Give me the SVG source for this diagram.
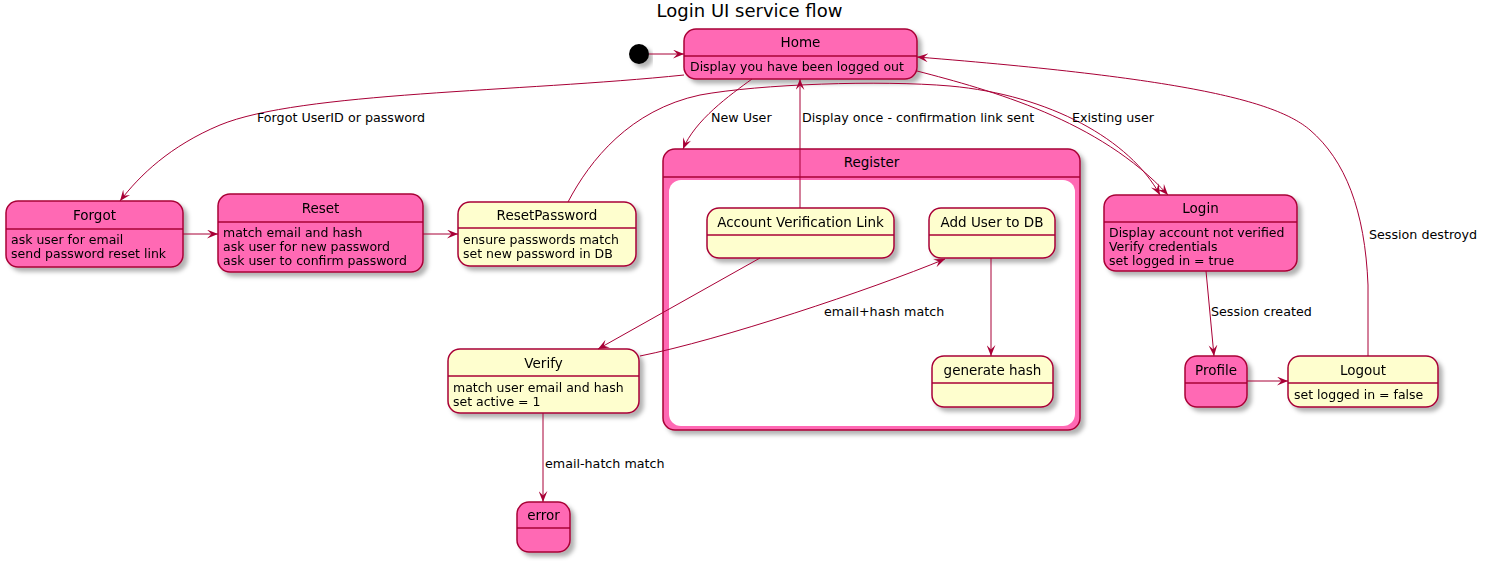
<svg xmlns="http://www.w3.org/2000/svg" width="1489" height="561" viewBox="0 0 1489 561">
<style>
text{font-family:"DejaVu Sans",sans-serif;fill:#000}
.title{font-size:18px}
.st{font-size:13.5px;text-anchor:middle}
.bd{font-size:12.5px}
.lb{font-size:12.7px}
.pk{fill:#FF69B4;stroke:#A80036;stroke-width:1.5}
.yl{fill:#FEFECE;stroke:#A80036;stroke-width:1.5}
.sep{stroke:#A80036;stroke-width:1.5}
.e{fill:none;stroke:#A80036;stroke-width:1}
</style>
<defs>
<filter id="sh" x="-10%" y="-10%" width="130%" height="140%">
<feDropShadow dx="4" dy="4" stdDeviation="2" flood-color="#000" flood-opacity="0.3"/>
</filter>
<marker id="ar" viewBox="0 0 10 8" refX="10" refY="4" markerWidth="11" markerHeight="9" orient="auto" markerUnits="userSpaceOnUse">
<path d="M0,0 L10,4 L0,8 L4,4 Z" fill="#A80036"/>
</marker>
</defs>
<rect width="1489" height="561" fill="#fff"/>
<text class="title" x="749.5" y="17" text-anchor="middle">Login UI service flow</text>

<g id="start" filter="url(#sh)"><circle cx="639" cy="54" r="10" fill="#000"/></g>

<g id="Home" filter="url(#sh)">
<rect class="pk" x="684" y="29" width="233" height="50" rx="12"/>
<line class="sep" x1="684" y1="56" x2="917" y2="56"/>
<text class="st" x="800.5" y="47">Home</text>
<text class="bd" x="690" y="71">Display you have been logged out</text>
</g>

<g id="Forgot" filter="url(#sh)">
<rect class="pk" x="6" y="201" width="177" height="66" rx="12"/>
<line class="sep" x1="6" y1="229" x2="183" y2="229"/>
<text class="st" x="94.5" y="220">Forgot</text>
<text class="bd" x="11" y="244">ask user for email</text>
<text class="bd" x="11" y="258">send password reset link</text>
</g>

<g id="Reset" filter="url(#sh)">
<rect class="pk" x="218" y="194" width="205" height="78" rx="12"/>
<line class="sep" x1="218" y1="222" x2="423" y2="222"/>
<text class="st" x="320.5" y="213">Reset</text>
<text class="bd" x="223" y="237">match email and hash</text>
<text class="bd" x="223" y="251">ask user for new password</text>
<text class="bd" x="223" y="265">ask user to confirm password</text>
</g>

<g id="ResetPassword" filter="url(#sh)">
<rect class="yl" x="458" y="202" width="178" height="64" rx="12"/>
<line class="sep" x1="458" y1="228" x2="636" y2="228"/>
<text class="st" x="547" y="220">ResetPassword</text>
<text class="bd" x="463" y="244">ensure passwords match</text>
<text class="bd" x="463" y="258">set new password in DB</text>
</g>

<g id="Register">
<g filter="url(#sh)">
<rect class="pk" x="663" y="149" width="417" height="281" rx="12"/>
</g>
<line class="sep" x1="663" y1="177" x2="1080" y2="177"/>
<rect x="669" y="180" width="406" height="246" rx="12" fill="#fff"/>
<text class="st" x="871.5" y="167">Register</text>
</g>

<g id="AccountVerificationLink" filter="url(#sh)">
<rect class="yl" x="707" y="208" width="187" height="50" rx="12"/>
<line class="sep" x1="707" y1="235" x2="894" y2="235"/>
<text class="st" x="800.5" y="227">Account Verification Link</text>
</g>

<g id="AddUserToDB" filter="url(#sh)">
<rect class="yl" x="929" y="208" width="126" height="50" rx="12"/>
<line class="sep" x1="929" y1="235" x2="1055" y2="235"/>
<text class="st" x="992" y="227">Add User to DB</text>
</g>

<g id="generateHash" filter="url(#sh)">
<rect class="yl" x="932" y="356" width="121" height="51" rx="12"/>
<line class="sep" x1="932" y1="383" x2="1053" y2="383"/>
<text class="st" x="992.5" y="375">generate hash</text>
</g>

<g id="Login" filter="url(#sh)">
<rect class="pk" x="1104" y="195" width="193" height="76" rx="12"/>
<line class="sep" x1="1104" y1="222" x2="1297" y2="222"/>
<text class="st" x="1200.5" y="213">Login</text>
<text class="bd" x="1109" y="237">Display account not verified</text>
<text class="bd" x="1109" y="251">Verify credentials</text>
<text class="bd" x="1109" y="265">set logged in = true</text>
</g>

<g id="Profile" filter="url(#sh)">
<rect class="pk" x="1185" y="356" width="62" height="51" rx="12"/>
<line class="sep" x1="1185" y1="383" x2="1247" y2="383"/>
<text class="st" x="1216" y="375">Profile</text>
</g>

<g id="Logout" filter="url(#sh)">
<rect class="yl" x="1288" y="356" width="150" height="51" rx="12"/>
<line class="sep" x1="1288" y1="383" x2="1438" y2="383"/>
<text class="st" x="1363" y="375">Logout</text>
<text class="bd" x="1294" y="399">set logged in = false</text>
</g>

<g id="Verify" filter="url(#sh)">
<rect class="yl" x="448" y="349" width="191" height="64" rx="12"/>
<line class="sep" x1="448" y1="376" x2="639" y2="376"/>
<text class="st" x="543.5" y="368">Verify</text>
<text class="bd" x="453" y="392">match user email and hash</text>
<text class="bd" x="453" y="406">set active = 1</text>
</g>

<g id="error" filter="url(#sh)">
<rect class="pk" x="517" y="502" width="53" height="50" rx="12"/>
<line class="sep" x1="517" y1="528" x2="570" y2="528"/>
<text class="st" x="543.5" y="520">error</text>
</g>

<g id="connectors">
<path class="e" marker-end="url(#ar)" d="M649,54 L684,54"/>
<path class="e" marker-end="url(#ar)" d="M684,75 C520,92 300,92 220,125 C170,146 140,175 120,201"/>
<path class="e" marker-end="url(#ar)" d="M183,234 L218,234"/>
<path class="e" marker-end="url(#ar)" d="M423,234 L458,234"/>
<path class="e" marker-end="url(#ar)" d="M752,79 C730,95 695,120 683,149"/>
<path class="e" marker-end="url(#ar)" d="M800,208 L800,79"/>
<path class="e" marker-end="url(#ar)" d="M568,202 C590,160 630,110 700,95 C760,84 880,80 950,86 C1050,95 1130,140 1160,195"/>
<path class="e" marker-end="url(#ar)" d="M917,71 C990,90 1100,120 1168,195"/>
<path class="e" marker-end="url(#ar)" d="M1368,356 L1368,285 C1365,210 1345,160 1310,130 C1275,100 1180,78 917,57"/>
<path class="e" marker-end="url(#ar)" d="M1206,271 L1214,356"/>
<path class="e" marker-end="url(#ar)" d="M1247,381 L1288,381"/>
<path class="e" marker-end="url(#ar)" d="M760,258 L598,349"/>
<path class="e" marker-end="url(#ar)" d="M640,356 C720,340 870,290 945,259"/>
<path class="e" marker-end="url(#ar)" d="M991,258 L991,356"/>
<path class="e" marker-end="url(#ar)" d="M543,413 L543,502"/>
<text class="lb" x="257" y="122">Forgot UserID or password</text>
<text class="lb" x="711" y="122">New User</text>
<text class="lb" x="802" y="122">Display once - confirmation link sent</text>
<text class="lb" x="1072" y="122">Existing user</text>
<text class="lb" x="1369" y="239">Session destroyd</text>
<text class="lb" x="1211" y="316">Session created</text>
<text class="lb" x="824" y="316">email+hash match</text>
<text class="lb" x="545" y="468">email-hatch match</text>
</g>
</svg>
